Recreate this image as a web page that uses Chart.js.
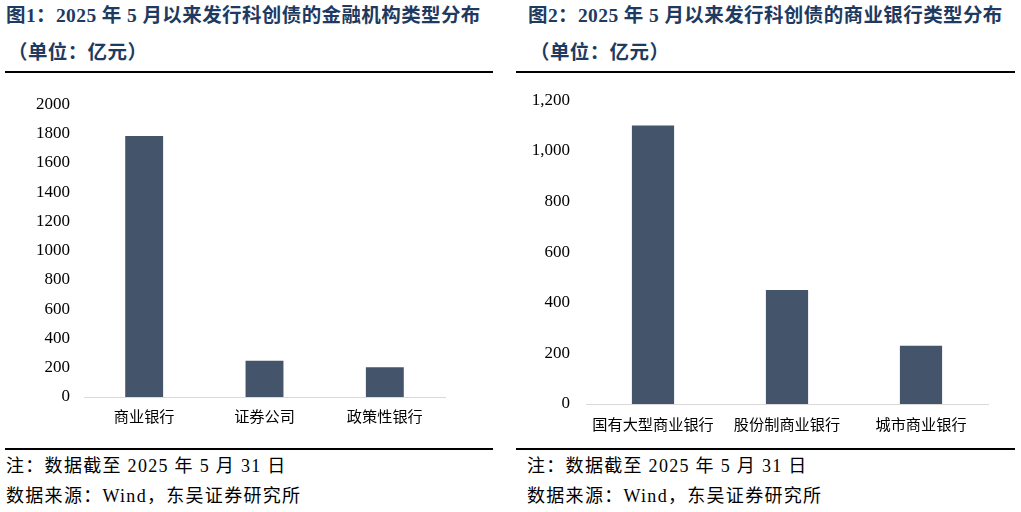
<!DOCTYPE html>
<html lang="zh-CN">
<head>
<meta charset="utf-8">
<title>科创债发行机构类型分布</title>
<script src="https://cdn.jsdelivr.net/npm/chart.js@4.4.1/dist/chart.umd.min.js"></script>
<style>
    html, body {
        margin: 0;
        padding: 0;
        width: 1021px;
        height: 512px;
        background: #ffffff;
        overflow: hidden;
        font-family: "Liberation Serif", "Noto Sans CJK SC", serif;
    }
    .txt {
        position: absolute;
        white-space: nowrap;
    }
    .title {
        font-size: 19.5px;
        line-height: 20px;
        font-weight: bold;
        color: #1f3a60;
        letter-spacing: 0.4px;
    }
    .note {
        font-size: 18px;
        line-height: 18px;
        color: #000000;
        letter-spacing: 1.3px;
    }
    .rule {
        position: absolute;
        height: 2px;
        background: #000000;
    }
    .chart-box {
        position: absolute;
    }
</style>
</head>
<body>

<!-- Painel 1 -->
<div class="txt title" style="left:6px; top:6px;">图1：2025 年 5 月以来发行科创债的金融机构类型分布</div>
<div class="txt title" style="left:8px; top:43px;">（单位：亿元）</div>
<div class="rule" style="left:5px; width:488px; top:71px;"></div>
<div class="chart-box" style="left:0px; top:80px; width:497px; height:360px;"><canvas id="chart1"></canvas></div>
<div class="rule" style="left:5px; width:488px; top:448px;"></div>
<div class="txt note" style="left:6px; top:457px;">注：数据截至 2025 年 5 月 31 日</div>
<div class="txt note" style="left:6px; top:487px;">数据来源：Wind，东吴证券研究所</div>

<!-- Painel 2 -->
<div class="txt title" style="left:528px; top:6px;">图2：2025 年 5 月以来发行科创债的商业银行类型分布</div>
<div class="txt title" style="left:530px; top:43px;">（单位：亿元）</div>
<div class="rule" style="left:516px; width:499px; top:71px;"></div>
<div class="chart-box" style="left:516px; top:74px; width:500px; height:366px;"><canvas id="chart2"></canvas></div>
<div class="rule" style="left:516px; width:499px; top:448px;"></div>
<div class="txt note" style="left:527px; top:457px;">注：数据截至 2025 年 5 月 31 日</div>
<div class="txt note" style="left:527px; top:487px;">数据来源：Wind，东吴证券研究所</div>

<script>
// ========================================
// DADOS
// ========================================

const institutionLabels = ['商业银行', '证券公司', '政策性银行'];
const institutionValues = [1782, 248, 204];
const institutionTicks = [0, 200, 400, 600, 800, 1000, 1200, 1400, 1600, 1800, 2000];

const bankLabels = ['国有大型商业银行', '股份制商业银行', '城市商业银行'];
const bankValues = [1100, 450, 230];
const bankTicks = [0, 200, 400, 600, 800, 1000, 1200];

const BAR_COLOR = '#44546a';
const AXIS_COLOR = '#d9d9d9';
const FONT_FAMILY = '"Liberation Serif", "Noto Sans CJK SC", serif';

// ========================================
// GRÁFICOS
// ========================================

function buildBarChart(canvasId, labels, values, ticks, opts) {
    const ctx = document.getElementById(canvasId);
    if (!ctx) return null;

    return new Chart(ctx, {
        type: 'bar',
        data: {
            labels: labels,
            datasets: [{
                data: values,
                backgroundColor: BAR_COLOR,
                borderWidth: 0,
                categoryPercentage: 1.0,
                barPercentage: 0.315
            }]
        },
        options: {
            responsive: true,
            maintainAspectRatio: false,
            animation: false,
            layout: {
                padding: { top: opts.top, right: opts.right, bottom: 0, left: 0 }
            },
            plugins: {
                legend: { display: false },
                tooltip: { enabled: false }
            },
            scales: {
                x: {
                    grid: { display: false, drawTicks: false },
                    border: { display: true, color: AXIS_COLOR, width: 1 },
                    ticks: {
                        color: '#000000',
                        padding: opts.xPad,
                        maxRotation: 0,
                        autoSkip: false,
                        font: { family: '"Noto Sans CJK SC", sans-serif', size: 15.2 }
                    },
                    afterFit: function(scale) { scale.height = opts.xHeight; }
                },
                y: {
                    min: ticks[0],
                    max: ticks[ticks.length - 1],
                    grid: { display: false, drawTicks: false },
                    border: { display: false },
                    afterBuildTicks: function(scale) {
                        scale.ticks = ticks.map(v => ({ value: v }));
                    },
                    ticks: {
                        color: '#000000',
                        padding: opts.yPad,
                        font: { family: FONT_FAMILY, size: 17 },
                        callback: opts.format
                    },
                    afterFit: function(scale) { scale.width = opts.yWidth; }
                }
            }
        }
    });
}

document.addEventListener('DOMContentLoaded', function() {
    buildBarChart('chart1', institutionLabels, institutionValues, institutionTicks, {
        top: 24, right: 52, xHeight: 43, xPad: 10, yWidth: 84, yPad: 14,
        format: v => String(v)
    });

    buildBarChart('chart2', bankLabels, bankValues, bankTicks, {
        top: 25, right: 28, xHeight: 36, xPad: 11, yWidth: 70, yPad: 16,
        format: v => v.toLocaleString('en-US')
    });
});
</script>
</body>
</html>
